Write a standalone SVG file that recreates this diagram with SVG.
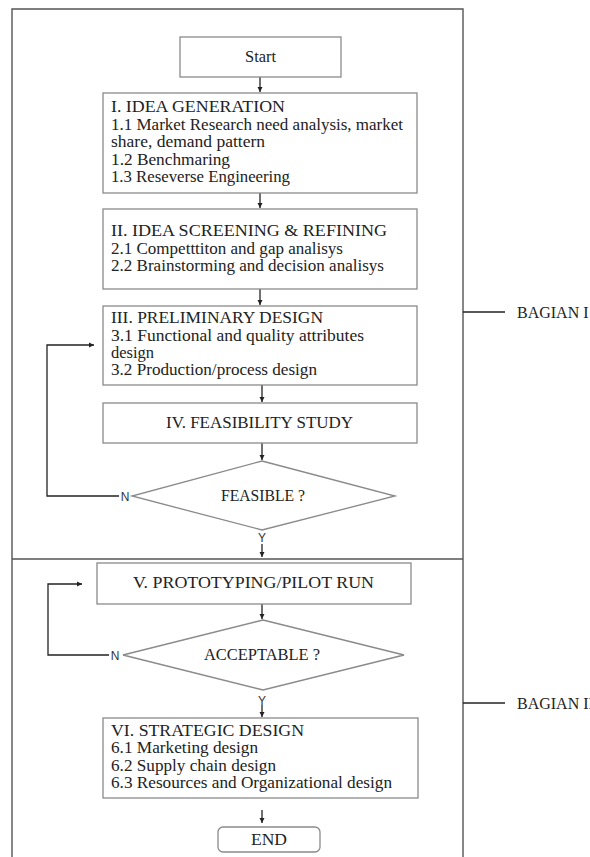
<svg xmlns="http://www.w3.org/2000/svg" width="590" height="857" viewBox="0 0 590 857">
<defs>
<marker id="ah" markerWidth="6" markerHeight="6" refX="5" refY="3" orient="auto" markerUnits="userSpaceOnUse">
<path d="M0,0.5 L5,3 L0,5.5 Z" fill="#222"/>
</marker>
<style>
.box{fill:#fff;stroke:#8a8a8a;stroke-width:1.3}
.frame{fill:none;stroke:#555;stroke-width:1.4}
.con{fill:none;stroke:#222;stroke-width:1.3}
.t{font-family:"Liberation Serif",serif;font-size:16px;fill:#222}
.c{text-anchor:middle}
.s{font-family:"Liberation Sans",Arial,sans-serif;font-size:12px;fill:#333;text-anchor:middle}
</style>
</defs>
<rect width="590" height="857" fill="#fff"/>
<g id="frame">
<path class="frame" d="M12,857 V9 H463 V857"/>
<line class="frame" x1="12" y1="559" x2="463" y2="559"/>
<line class="con" x1="463" y1="312" x2="505" y2="312"/>
<line class="con" x1="463" y1="703" x2="505" y2="703"/>
<text class="t" x="517" y="318">BAGIAN I</text>
<text class="t" x="517" y="709">BAGIAN II</text>
</g>
<g id="connectors">
<line class="con" x1="260" y1="77" x2="260" y2="92" marker-end="url(#ah)"/>
<line class="con" x1="260" y1="193" x2="260" y2="208" marker-end="url(#ah)"/>
<line class="con" x1="260" y1="289" x2="260" y2="305" marker-end="url(#ah)"/>
<line class="con" x1="262" y1="385" x2="262" y2="402" marker-end="url(#ah)"/>
<line class="con" x1="262" y1="443" x2="262" y2="460" marker-end="url(#ah)"/>
<line class="con" x1="262" y1="544" x2="262" y2="557" marker-end="url(#ah)"/>
<line class="con" x1="262" y1="604" x2="262" y2="619" marker-end="url(#ah)"/>
<line class="con" x1="262" y1="705" x2="262" y2="717" marker-end="url(#ah)"/>
<line class="con" x1="262" y1="810" x2="262" y2="823" marker-end="url(#ah)"/>
<path class="con" d="M119,496 H47 V345 H94" marker-end="url(#ah)"/>
<path class="con" d="M109,655 H48 V584 H82" marker-end="url(#ah)"/>
<text class="s" x="125" y="500.5">N</text>
<text class="s" x="115" y="659.5">N</text>
<text class="s" x="262" y="542">Y</text>
<text class="s" x="262" y="705">Y</text>
</g>
<g id="start">
<rect class="box" x="180" y="37" width="161" height="40"/>
<text class="t c" x="260.5" y="62" textLength="31" lengthAdjust="spacingAndGlyphs">Start</text>
</g>
<g id="idea-generation">
<rect class="box" x="103" y="93" width="314" height="100"/>
<text class="t" x="111" y="112" textLength="174" lengthAdjust="spacingAndGlyphs">I. IDEA GENERATION</text>
<text class="t" x="111" y="129.5" textLength="292" lengthAdjust="spacingAndGlyphs">1.1 Market Research need analysis, market</text>
<text class="t" x="111" y="147" textLength="154" lengthAdjust="spacingAndGlyphs">share, demand pattern</text>
<text class="t" x="111" y="164.5" textLength="119" lengthAdjust="spacingAndGlyphs">1.2 Benchmaring</text>
<text class="t" x="111" y="182" textLength="179" lengthAdjust="spacingAndGlyphs">1.3 Reseverse Engineering</text>
</g>
<g id="idea-screening">
<rect class="box" x="103" y="209" width="314" height="80"/>
<text class="t" x="111" y="236" textLength="276" lengthAdjust="spacingAndGlyphs">II. IDEA SCREENING &amp; REFINING</text>
<text class="t" x="111" y="254" textLength="232" lengthAdjust="spacingAndGlyphs">2.1 Competttiton and gap analisys</text>
<text class="t" x="111" y="271" textLength="273" lengthAdjust="spacingAndGlyphs">2.2 Brainstorming and decision analisys</text>
</g>
<g id="preliminary-design">
<rect class="box" x="103" y="306" width="314" height="79"/>
<text class="t" x="111" y="323" textLength="212" lengthAdjust="spacingAndGlyphs">III. PRELIMINARY DESIGN</text>
<text class="t" x="111" y="340.5" textLength="253" lengthAdjust="spacingAndGlyphs">3.1 Functional and quality attributes</text>
<text class="t" x="111" y="357.5" textLength="43" lengthAdjust="spacingAndGlyphs">design</text>
<text class="t" x="111" y="375" textLength="206" lengthAdjust="spacingAndGlyphs">3.2 Production/process design</text>
</g>
<g id="feasibility-study">
<rect class="box" x="103" y="403" width="314" height="40"/>
<text class="t c" x="259.5" y="428" textLength="187" lengthAdjust="spacingAndGlyphs">IV. FEASIBILITY STUDY</text>
</g>
<g id="feasible">
<polygon class="box" points="262,461 395,496 262,530 132,496"/>
<text class="t c" x="263" y="500.5" textLength="84" lengthAdjust="spacingAndGlyphs">FEASIBLE ?</text>
</g>
<g id="prototyping">
<rect class="box" x="97" y="563" width="314" height="41"/>
<text class="t c" x="253.5" y="588" textLength="241" lengthAdjust="spacingAndGlyphs">V. PROTOTYPING/PILOT RUN</text>
</g>
<g id="acceptable">
<polygon class="box" points="263,620 404,655 263,690 123,655"/>
<text class="t c" x="262" y="659.5" textLength="116" lengthAdjust="spacingAndGlyphs">ACCEPTABLE ?</text>
</g>
<g id="strategic-design">
<rect class="box" x="103" y="718" width="315" height="80"/>
<text class="t" x="111" y="735.5" textLength="193" lengthAdjust="spacingAndGlyphs">VI. STRATEGIC DESIGN</text>
<text class="t" x="111" y="753" textLength="147" lengthAdjust="spacingAndGlyphs">6.1 Marketing design</text>
<text class="t" x="111" y="770.5" textLength="165" lengthAdjust="spacingAndGlyphs">6.2 Supply chain design</text>
<text class="t" x="111" y="788" textLength="281" lengthAdjust="spacingAndGlyphs">6.3 Resources and Organizational design</text>
</g>
<g id="end">
<rect class="box" x="218" y="827" width="102" height="25" rx="5"/>
<text class="t c" x="269" y="845" textLength="36" lengthAdjust="spacingAndGlyphs">END</text>
</g>
</svg>
